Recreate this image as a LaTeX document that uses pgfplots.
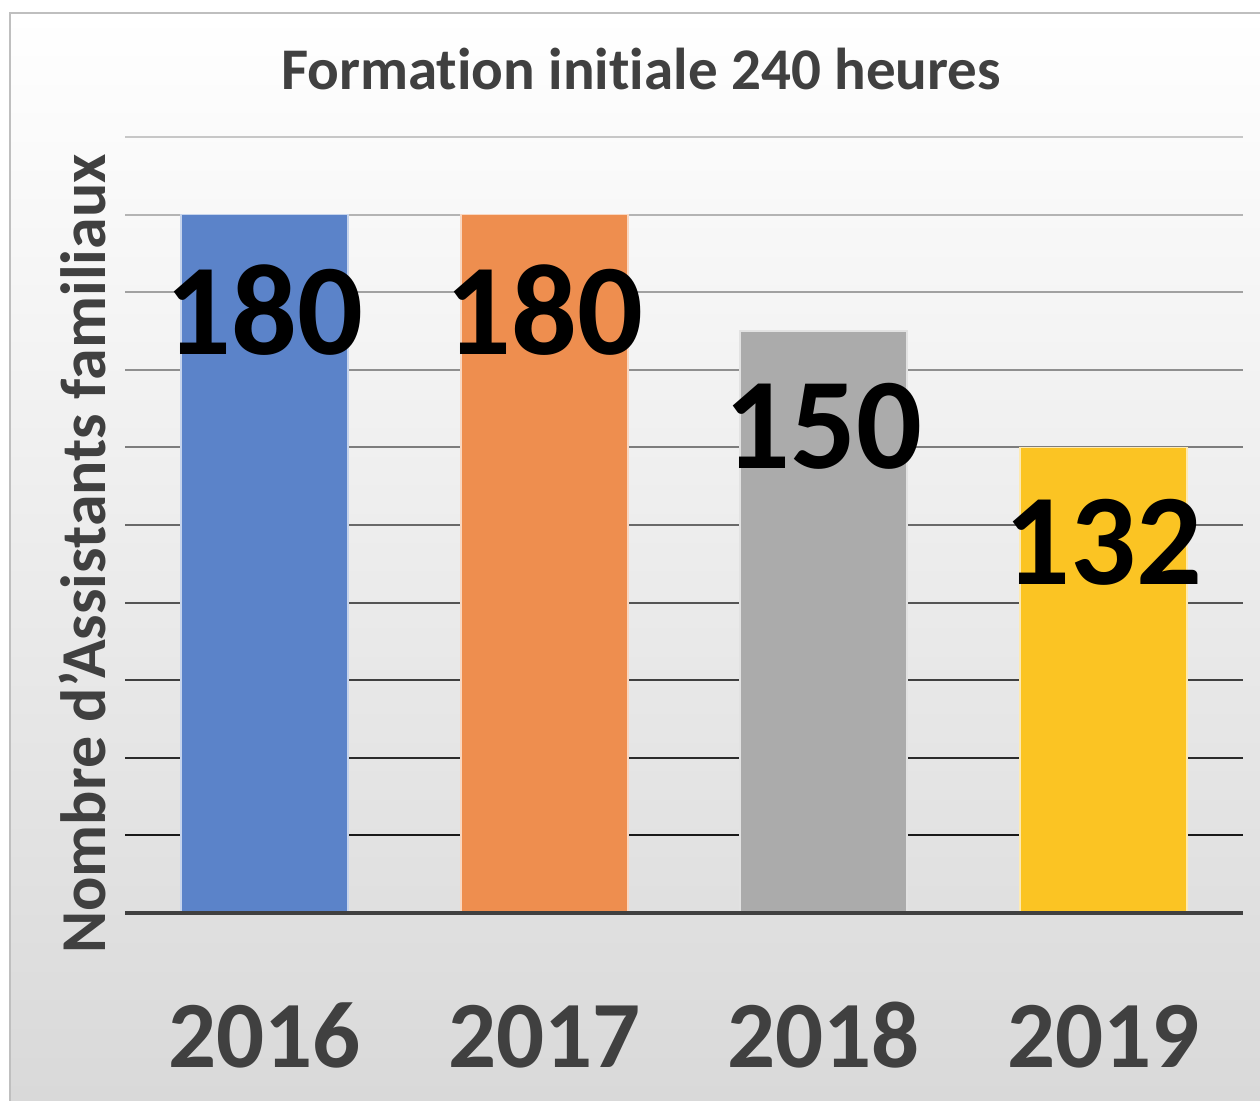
\documentclass[border=0pt]{standalone}
\usepackage{pgfplots}
\pgfplotsset{compat=1.18}
\usepackage{fontspec}
\setmainfont{Carlito}[Ligatures={NoCommon}]
\definecolor{txt}{HTML}{404040}
\definecolor{cblue}{HTML}{5B83C9}
\definecolor{corange}{HTML}{EE8E4F}
\definecolor{cgray}{HTML}{ABABAB}
\definecolor{cyellow}{HTML}{FBC423}
\definecolor{bgbot}{HTML}{D9D9D9}
\begin{document}
\begin{tikzpicture}[x=1mm,y=1mm]
\useasboundingbox (0,0) rectangle (126,110);
\fill[white] (0,0) rectangle (126,110);
\shade[top color=white, bottom color=bgbot] (1.0,0) rectangle (126,108.7);
\draw[gray!50, line width=0.6pt] (1.0,-2) -- (1.0,108.7) -- (128,108.7);
\node[anchor=base, text=txt, font=\bfseries\fontsize{16.8}{20}\selectfont] at (64.1,101) {Formation initiale 240 heures};
\node[anchor=base, rotate=90, text=txt, font=\bfseries\fontsize{18.2}{21}\selectfont] at (10.5,54.6) {Nombre d’Assistants familiaux};
\begin{axis}[
  at={(12.5mm,18.7mm)}, anchor=south west,
  scale only axis, width=111.8mm, height=77.6mm,
  xmin=-0.5, xmax=3.5, ymin=0, ymax=200,
  axis line style={draw=none},
  major tick length=0pt,
  ytick=\empty,
  xtick={0,1,2,3},
  xticklabels={2016,2017,2018,2019},
  xticklabel style={anchor=base, yshift=-15.4mm, text=txt, font=\bfseries\fontsize{27}{30}\selectfont},
  clip=false,
  ybar, bar width=16.7mm, bar shift=0pt,
  point meta=explicit symbolic,
  nodes near coords={\pgfplotspointmeta},
  every node near coord/.append style={anchor=center, yshift=-9.5mm, text=black, inner sep=0pt, font=\bfseries\fontsize{37}{40}\selectfont},
]
\foreach \v/\p in {20/10,40/17,60/25,80/33,100/41,120/49,140/56,160/63,180/70.7,200/78} {
  \edef\tmp{\noexpand\draw[line width=0.55pt, color=white!\p!black] (axis cs:-0.5,\v) -- (axis cs:3.5,\v);}
  \tmp
}
\addplot[fill=cblue, draw=white!65!cblue, line width=0.5pt] coordinates {(0,180) [180]};
\addplot[fill=corange, draw=white!65!corange, line width=0.5pt] coordinates {(1,180) [180]};
\addplot[fill=cgray, draw=white!65!cgray, line width=0.5pt] coordinates {(2,150) [150]};
\addplot[fill=cyellow, draw=white!65!cyellow, line width=0.5pt] coordinates {(3,120) [132]};
\draw[line width=0.9pt, color=txt] (axis cs:-0.5,0) -- (axis cs:3.5,0);
\end{axis}
\end{tikzpicture}
\end{document}
